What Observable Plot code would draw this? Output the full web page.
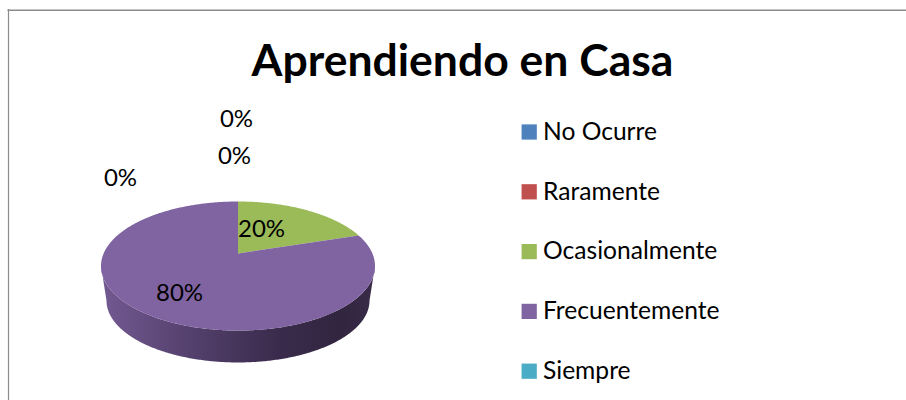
<!DOCTYPE html>
<html lang="es">
<head>
<meta charset="utf-8">
<title>Aprendiendo en Casa</title>
<script src="https://cdn.jsdelivr.net/npm/d3@7"></script>
<script src="https://cdn.jsdelivr.net/npm/@observablehq/plot@0.6"></script>
<style>
  html, body { margin: 0; padding: 0; background: #fff; }
  svg { display: block; }
</style>
</head>
<body>
<div id="chart"></div>
<script>
// --- data ---
const titleText = "Aprendiendo en Casa";
const categories = ["No Ocurre", "Raramente", "Ocasionalmente", "Frecuentemente", "Siempre"];
const shares = [0, 0, 20, 80, 0];
const colors = ["#4f81bd", "#c0504d", "#9bbb59", "#8064a2", "#4bacc6"];

// --- layout (pixels of the 906x400 picture) ---
const font = "Lato, 'Open Sans', sans-serif";
const apex = {x: 237.5, y: 253};
const a = 134.4, b = 62.1, k = 0.194;   // perspective of the tilted disc
const wallScale = 0.96, wallDrop = 35;
const labelAt = [[236, 119], [234, 156], [261, 229], [179, 293], [120, 178]];
const legend = {x: 528.7, y: 131.5, step: 59.8, labelX: 542.5};

// Project a pie angle (clockwise from 12 o'clock) onto the tilted disc
function project(t, scale = 1, drop = 0) {
  const X = Math.sin(t), Y = Math.cos(t), w = 1 + k * Y;
  return {x: apex.x + scale * a * X / w, y: apex.y + drop - scale * b * Y / w};
}
function arc(t0, t1, scale, drop) {
  const n = Math.max(1, Math.ceil(Math.abs(t1 - t0) / 0.01));
  return d3.range(n + 1).map(i => project(t0 + (t1 - t0) * i / n, scale, drop));
}

const slices = d3.pie().sort(null).value(d => d)(shares).map((s, i) => ({...s, name: categories[i]}));

const facePoints = slices
  .filter(s => s.value > 0)
  .flatMap(s => [apex, ...arc(s.startAngle, s.endAngle)].map(p => ({...p, name: s.name})));

const edge = Math.PI / 2 + Math.asin(k);
const wallPoints = [
  ...arc(edge, 2 * Math.PI - edge),
  ...arc(2 * Math.PI - edge, edge, wallScale, wallDrop)
];

const labels = slices.map((s, i) => ({
  text: `${s.value}%`, x: labelAt[i][0], y: labelAt[i][1]
}));
const legendRows = categories.map((name, i) => ({name, y: legend.y + legend.step * i}));

const wallGradient = () => {
  const defs = d3.create("svg:defs");
  const g = defs.append("linearGradient").attr("id", "wall");
  [[0, "#735a92"], [0.27, "#594473"], [0.45, "#4a3860"], [0.65, "#3a2b4c"], [0.88, "#31253f"], [1, "#3a2c4a"]]
    .forEach(([o, c]) => g.append("stop").attr("offset", o).attr("stop-color", c));
  return defs.node();
};

const plot = Plot.plot({
  width: 906, height: 400,
  margin: 0,
  style: {background: "#fff", fontFamily: font},
  x: {domain: [0, 906], range: [0, 906], axis: null},
  y: {domain: [0, 400], range: [0, 400], axis: null},
  color: {domain: categories, range: colors},
  marks: [
    wallGradient,
    Plot.ruleY([9.7], {x1: 7.5, x2: 906, stroke: "#8c8c8c", strokeWidth: 1.6}),
    Plot.ruleX([8], {y1: 9, y2: 400, stroke: "#8c8c8c", strokeWidth: 1.2}),
    Plot.line(wallPoints, {x: "x", y: "y", fill: "url(#wall)", stroke: "none"}),
    Plot.line(facePoints, {x: "x", y: "y", z: "name", fill: "name", stroke: "none"}),
    Plot.text(labels, {x: "x", y: "y", text: "text", fontSize: 24, fill: "#000"}),
    Plot.text([titleText], {x: () => 462, y: () => 61, text: d => d, fontSize: 44.5, fontWeight: 700, fill: "#000"}),
    Plot.dot(legendRows, {x: () => legend.x, y: "y", symbol: "square", r: 8.6, fill: "name", stroke: "none"}),
    Plot.text(legendRows, {x: () => legend.labelX, y: "y", text: "name", textAnchor: "start", fontSize: 24.6, fill: "#000"})
  ]
});
document.getElementById("chart").append(plot);
</script>
</body>
</html>
